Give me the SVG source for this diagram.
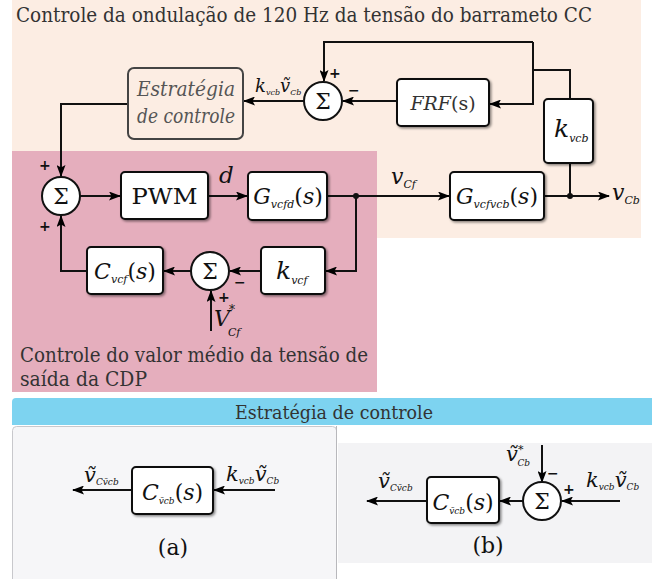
<svg xmlns="http://www.w3.org/2000/svg" width="652" height="579" viewBox="0 0 652 579" font-family="DejaVu Serif, Liberation Serif, serif">
<defs>
<marker id="ah" markerUnits="userSpaceOnUse" markerWidth="12" markerHeight="9" refX="11" refY="4.5" orient="auto">
<path d="M0,0 L12,4.5 L0,9 L2.5,4.5 z" fill="#000"/>
</marker>
<filter id="sh" x="-10%" y="-10%" width="130%" height="130%">
<feDropShadow dx="1.5" dy="1.5" stdDeviation="0.8" flood-color="#000" flood-opacity="0.45"/>
</filter>
<style>
text, tspan{font-family:"DejaVu Serif","Liberation Serif",serif}
text{fill:#111}
.t{fill:#333;font-size:20px}
.blk rect{fill:#fff;stroke:#111;stroke-width:2;filter:url(#sh)}
.sum circle{fill:#fff;stroke:#111;stroke-width:2}
.sum text{font-size:22px;text-anchor:middle}
.w{fill:none;stroke:#111;stroke-width:2}
.a{marker-end:url(#ah)}
.i{font-style:italic}
.m{font-size:22px}
.s{font-size:11px;font-style:italic}
text.sg{font-family:"DejaVu Sans",sans-serif;font-weight:bold;font-size:14px}
</style>
</defs>

<!-- backgrounds -->
<rect x="12" y="0" width="629" height="238" fill="#fcede3"/>
<rect x="12" y="151" width="365" height="241" fill="#e5aebd"/>
<path d="M12,425 V402 Q12,398 16,398 H652 V425 z" fill="#7dd3f0"/>
<rect x="12.5" y="426.5" width="324" height="160" rx="4" fill="#f6f6f8" stroke="#c8c8cc"/>
<line x1="336.5" y1="426" x2="336.5" y2="579" stroke="#b8b8bc"/>
<rect x="338" y="443" width="314" height="120" fill="#f3f3f5"/>

<!-- titles -->
<text class="t" x="16" y="22" textLength="576" lengthAdjust="spacingAndGlyphs">Controle da ondulação de 120 Hz da tensão do barrameto CC</text>
<text class="t" x="20" y="362" textLength="348" lengthAdjust="spacingAndGlyphs">Controle do valor médio da tensão de</text>
<text class="t" x="20" y="386" textLength="127" lengthAdjust="spacingAndGlyphs">saída da CDP</text>
<text class="t" x="334" y="419" text-anchor="middle" style="font-size:19px" textLength="198" lengthAdjust="spacingAndGlyphs">Estratégia de controle</text>

<!-- connectors -->
<g id="connectors">
<path class="w" d="M570,99 V70 H533"/>
<path class="w a" d="M533,42 V104 H490"/>
<path class="w a" d="M533,42 H324 V81"/>
<path class="w a" d="M397,101 H343"/>
<path class="w a" d="M304,101 H244"/>
<path class="w a" d="M128,104 H61 V176"/>
<path class="w a" d="M80,196 H120"/>
<path class="w a" d="M208,196 H247"/>
<path class="w a" d="M327,196 H449"/>
<path class="w a" d="M544,196 H609"/>
<path class="w" d="M570,196 V163"/>
<path class="w a" d="M356,196 V271 H326"/>
<path class="w a" d="M261,271 H230"/>
<path class="w a" d="M191,271 H164"/>
<path class="w a" d="M87,271 H61 V216"/>
<path class="w a" d="M211,331 V291"/>
<circle cx="356" cy="196" r="3" fill="#111"/>
<circle cx="570" cy="196" r="3" fill="#111"/>
<path class="w a" d="M132,490 H73"/>
<path class="w a" d="M275,490 H214"/>
<path class="w a" d="M427,501 H367"/>
<path class="w a" d="M523,501 H500"/>
<path class="w a" d="M620,501 H562"/>
<path class="w a" d="M542,445 V482"/>
</g>

<!-- top section nodes -->
<g id="estrategia">
<rect x="128" y="68" width="115" height="71" rx="6" fill="none" stroke="#444" stroke-width="2"/>
<text x="186" y="96" class="i" style="font-size:20px;fill:#555" text-anchor="middle" textLength="98" lengthAdjust="spacingAndGlyphs">Estratégia</text>
<text x="186" y="123" class="i" style="font-size:20px;fill:#555" text-anchor="middle" textLength="98" lengthAdjust="spacingAndGlyphs">de controle</text>
</g>
<text x="255" y="92"><tspan class="i" style="font-size:18px">k</tspan><tspan style="font-size:8px;font-style:italic" dy="3">vcb</tspan><tspan class="i" style="font-size:18px" dy="-3">ṽ</tspan><tspan style="font-size:8px;font-style:italic" dy="3">Cb</tspan></text>
<g id="sum_top" class="sum"><circle cx="323" cy="101" r="19"/><text x="323" y="109">Σ</text></g>
<text class="sg" x="329" y="78">+</text>
<text class="sg" x="348" y="95">−</text>
<g id="frf" class="blk"><rect x="397" y="79" width="92" height="47" rx="4"/>
<text x="443" y="110" text-anchor="middle" style="font-size:19px;fill:#333"><tspan class="i">FRF</tspan><tspan>(s)</tspan></text></g>
<g id="kvcb" class="blk"><rect x="544" y="99" width="49" height="64" rx="4"/>
<text x="554" y="137"><tspan class="i" style="font-size:25px">k</tspan><tspan class="s" dy="5">vcb</tspan></text></g>

<!-- main row -->
<g id="sum1" class="sum"><circle cx="61" cy="196" r="19"/><text x="61" y="204">Σ</text></g>
<text class="sg" x="39" y="170">+</text>
<text class="sg" x="39" y="231">+</text>
<g id="pwm" class="blk"><rect x="121" y="172" width="87" height="47" rx="4"/>
<text x="164.5" y="204" text-anchor="middle" style="font-size:23px" textLength="66" lengthAdjust="spacingAndGlyphs">PWM</text></g>
<text x="219" y="183" class="i" style="font-size:23px">d</text>
<g id="gvcfd" class="blk"><rect x="248" y="172" width="79" height="48" rx="4"/>
<text x="288" y="204" text-anchor="middle"><tspan class="i m">G</tspan><tspan class="s" dy="4">vcfd</tspan><tspan class="m" dy="-4">(</tspan><tspan class="i m">s</tspan><tspan class="m">)</tspan></text></g>
<text x="391" y="184"><tspan class="i m">v</tspan><tspan class="s" dy="4">Cf</tspan></text>
<g id="gvcfvcb" class="blk"><rect x="450" y="172" width="94" height="48" rx="4"/>
<text x="497" y="204" text-anchor="middle"><tspan class="i m">G</tspan><tspan class="s" dy="4">vcfvcb</tspan><tspan class="m" dy="-4">(</tspan><tspan class="i m">s</tspan><tspan class="m">)</tspan></text></g>
<text x="612" y="200"><tspan class="i m">v</tspan><tspan class="s" dy="4">Cb</tspan></text>

<!-- lower loop -->
<g id="cvcf" class="blk"><rect x="87" y="247" width="76" height="47" rx="4"/>
<text x="125" y="279" text-anchor="middle"><tspan class="i m">C</tspan><tspan class="s" dy="4">vcf</tspan><tspan class="m" dy="-4">(</tspan><tspan class="i m">s</tspan><tspan class="m">)</tspan></text></g>
<g id="sum2" class="sum"><circle cx="210" cy="271" r="19"/><text x="210" y="279">Σ</text></g>
<text class="sg" x="234" y="287">−</text>
<text class="sg" x="218" y="302">+</text>
<g id="kvcf" class="blk"><rect x="261" y="247" width="64" height="47" rx="4"/>
<text x="276" y="279"><tspan class="i" style="font-size:25px">k</tspan><tspan class="s" dy="5">vcf</tspan></text></g>
<text x="214" y="326"><tspan class="i m">V</tspan><tspan style="font-size:12px" dx="-1" dy="-12">*</tspan><tspan class="s" dx="-7" dy="22">Cf</tspan></text>

<!-- panel a -->
<g id="panel_a">
<text x="84" y="482"><tspan class="i" style="font-size:21px">ṽ</tspan><tspan style="font-size:9px;font-style:italic" dy="3">Cṽcb</tspan></text>
<g class="blk"><rect x="132" y="467" width="81" height="47" rx="4"/>
<text x="172.5" y="500" text-anchor="middle"><tspan class="i m">C</tspan><tspan style="font-size:9px;font-style:italic" dy="4">ṽcb</tspan><tspan class="m" dy="-4">(</tspan><tspan class="i m">s</tspan><tspan class="m">)</tspan></text></g>
<text x="226" y="481"><tspan class="i" style="font-size:21px">k</tspan><tspan style="font-size:9px;font-style:italic" dy="3">vcb</tspan><tspan class="i" style="font-size:21px" dy="-3">ṽ</tspan><tspan style="font-size:9px;font-style:italic" dy="3">Cb</tspan></text>
<text x="173" y="555" text-anchor="middle" style="font-size:22px">(a)</text>
</g>

<!-- panel b -->
<g id="panel_b">
<text x="378" y="488"><tspan class="i" style="font-size:21px">ṽ</tspan><tspan style="font-size:9px;font-style:italic" dy="3">Cṽcb</tspan></text>
<g class="blk"><rect x="427" y="477" width="72" height="46" rx="4"/>
<text x="463" y="510" text-anchor="middle"><tspan class="i m">C</tspan><tspan style="font-size:9px;font-style:italic" dy="4">ṽcb</tspan><tspan class="m" dy="-4">(</tspan><tspan class="i m">s</tspan><tspan class="m">)</tspan></text></g>
<g class="sum"><circle cx="542" cy="501" r="19"/><text x="542" y="509">Σ</text></g>
<text class="sg" x="547" y="478">−</text>
<text class="sg" x="563" y="494">+</text>
<text x="506" y="461"><tspan class="i" style="font-size:21px">ṽ</tspan><tspan style="font-size:11px" dy="-8">*</tspan><tspan style="font-size:9px;font-style:italic" dx="-6" dy="13">Cb</tspan></text>
<text x="586" y="487"><tspan class="i" style="font-size:21px">k</tspan><tspan style="font-size:9px;font-style:italic" dy="3">vcb</tspan><tspan class="i" style="font-size:21px" dy="-3">ṽ</tspan><tspan style="font-size:9px;font-style:italic" dy="3">Cb</tspan></text>
<text x="488" y="553" text-anchor="middle" style="font-size:22px">(b)</text>
</g>
</svg>
